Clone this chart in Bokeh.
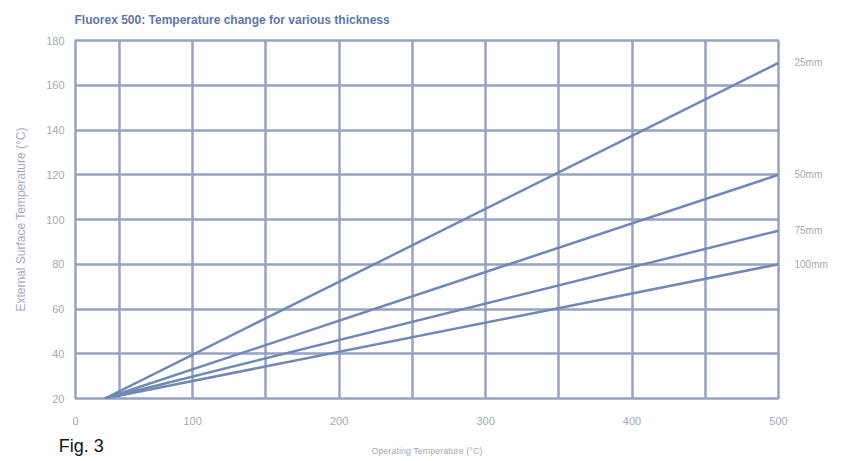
from bokeh.plotting import figure
from bokeh.models import FixedTicker, Range1d, LinearAxis
from bokeh.embed import file_html
from bokeh.resources import INLINE

# Data
thickness = ["25mm", "50mm", "75mm", "100mm"]
operating_start = [40, 40, 40, 40]
operating_end = [500, 500, 500, 500]
surface_start = [20, 20, 20, 20]
surface_end = [170, 120, 95, 80]

x_tick_values = [20, 100, 200, 300, 400, 500]
x_tick_labels = ["0", "100", "200", "300", "400", "500"]
y_tick_values = [20, 40, 60, 80, 100, 120, 140, 160, 180]

GRID = "#97a3c2"
LINE = "#7088b6"
TXT = "#a3aab9"
FONT = "Liberation Sans"

p = figure(width=854, height=461, output_backend="svg", toolbar_location=None,
           x_range=Range1d(20, 500), y_range=Range1d(20, 180),
           min_border_left=75, min_border_right=76, min_border_top=40, min_border_bottom=63)
p.background_fill_color = "white"
p.border_fill_color = "white"
p.outline_line_color = GRID
p.outline_line_width = 2.5

p.title.text = "Fluorex 500: Temperature change for various thickness"
p.title.text_font = FONT
p.title.text_font_style = "bold"
p.title.text_font_size = "12px"
p.title.text_color = "#5b77ad"
p.title.align = "left"
p.title.vertical_align = "top"
p.title.offset = -1
p.title.standoff = 24

p.xaxis.ticker = FixedTicker(ticks=x_tick_values)
p.xaxis.major_label_overrides = {v: l for v, l in zip(x_tick_values, x_tick_labels)}
p.yaxis.ticker = FixedTicker(ticks=y_tick_values)
p.xgrid.ticker = FixedTicker(ticks=[50, 100, 150, 200, 250, 300, 350, 400, 450])
p.ygrid.ticker = FixedTicker(ticks=[40, 60, 80, 100, 120, 140, 160])
for g in (p.xgrid, p.ygrid):
    g.grid_line_color = GRID
    g.grid_line_width = 2.5

right = LinearAxis(ticker=FixedTicker(ticks=surface_end),
                   major_label_overrides={v: t for v, t in zip(surface_end, thickness)})
p.add_layout(right, "right")

# second bottom axis carrying the figure caption and the x axis title
caption = LinearAxis(ticker=FixedTicker(ticks=[24]), major_label_overrides={24: "Fig. 3"})
p.add_layout(caption, "below")

for ax in (p.xaxis[0], p.yaxis[0], right, caption):
    ax.axis_line_color = None
    ax.major_tick_line_color = None
    ax.minor_tick_line_color = None
    ax.major_tick_out = 0
    ax.major_tick_in = 0
    ax.minor_tick_out = 0
    ax.minor_tick_in = 0
    ax.major_label_text_color = TXT
    ax.major_label_text_font = FONT
    ax.major_label_text_font_size = "11px"
    ax.axis_label_text_color = TXT
    ax.axis_label_text_font = FONT
    ax.axis_label_text_font_size = "9px"
    ax.axis_label_text_font_style = "normal"

right.major_label_text_font_size = "10px"
caption.major_label_text_color = "#111111"
caption.major_label_text_font_size = "18px"
caption.major_label_standoff = 8
caption.axis_label = "Operating Temperature (°C)"
caption.axis_label_standoff = -13

p.xaxis[0].major_label_standoff = 18
p.yaxis[0].major_label_standoff = 11
right.major_label_standoff = 16
p.yaxis[0].axis_label = "External Surface Temperature (°C)"
p.yaxis[0].axis_label_text_font_size = "12px"
p.yaxis[0].axis_label_standoff = 15

for i in range(len(thickness)):
    p.line([operating_start[i], operating_end[i]], [surface_start[i], surface_end[i]],
           line_color=LINE, line_width=2.5)

open("out.html", "w").write(file_html(p, INLINE))
